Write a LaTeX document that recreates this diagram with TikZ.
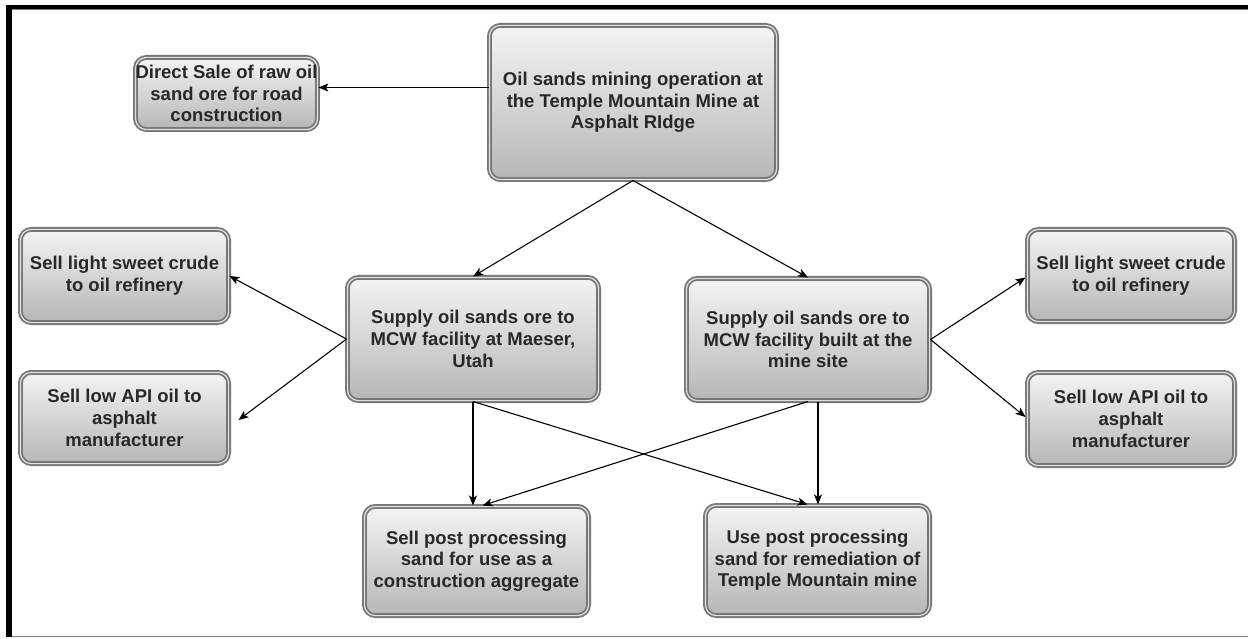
\documentclass[tikz,border=0pt]{standalone}
\usepackage{fontspec}
\setmainfont{Liberation Sans}
\usetikzlibrary{arrows.meta,calc}
\definecolor{boxline}{RGB}{118,118,118}
\definecolor{txt}{RGB}{40,40,40}
\definecolor{topc}{RGB}{244,244,244}
\definecolor{botc}{RGB}{182,182,182}
\begin{document}
\begin{tikzpicture}[x=1pt,y=-1pt,
  box/.style={draw=boxline, line width=1.8pt, double={rgb,255:red,225;green,225;blue,225}, double distance=1.2pt,
    rounded corners=11pt, top color=topc, bottom color=botc,
    inner sep=0pt, align=center, text=txt,
    font=\fontsize{18.5}{21.7}\selectfont\bfseries},
  conn/.style={draw=black, line width=1.1pt, -{Stealth[length=10pt,width=8pt,inset=2.5pt]}}]
\useasboundingbox (0,0) rectangle (1248,639);
\fill[white] (0,0) rectangle (1248,639);
% frame
\fill[black] (6,5) rectangle (12,637);
\fill[black] (6,5) rectangle (1248,9);
\draw[gray, line width=0.8pt] (12,9.6) -- (1248,9.6);
\draw[gray, line width=1pt] (12,636) -- (1248,636);
% nodes (size = outer size - 4.8)
\node[box, minimum width=287.2pt, minimum height=154.2pt] (top) at (633,102.5)
  {Oil sands mining operation at\\the Temple Mountain Mine at\\Asphalt RIdge};
\node[box, minimum width=172.2pt, minimum height=72.2pt] (direct) at (226.5,93.5)
  {Direct Sale of raw oil\\sand ore for road\\construction};
\node[box, minimum width=251.2pt, minimum height=123.2pt] (supL) at (473,339)
  {Supply oil sands ore to\\MCW facility at Maeser,\\Utah};
\node[box, minimum width=243.2pt, minimum height=122.2pt] (supR) at (808,339.5)
  {Supply oil sands ore to\\MCW facility built at the\\mine site};
\node[box, minimum width=208.2pt, minimum height=93.2pt] (lsl) at (124.5,276)
  {Sell light sweet crude\\to oil refinery};
\node[box, minimum width=208.2pt, minimum height=91.2pt] (lsw) at (124.5,418)
  {Sell low API oil to\\asphalt\\manufacturer};
\node[box, minimum width=207.2pt, minimum height=92.2pt] (rsl) at (1131,275.5)
  {Sell light sweet crude\\to oil refinery};
\node[box, minimum width=207.2pt, minimum height=93.2pt] (rsw) at (1131,419)
  {Sell low API oil to\\asphalt\\manufacturer};
\node[box, minimum width=224.2pt, minimum height=109.2pt] (bl) at (476.5,561)
  {Sell post processing\\sand for use as a\\construction aggregate};
\node[box, minimum width=224.2pt, minimum height=110.2pt] (br) at (817.5,560.5)
  {Use post processing\\sand for remediation of\\Temple Mountain mine};
% connectors
\coordinate (dsrc) at ($(top.west)+(0,-15)$);
\draw[conn] (dsrc) -- (direct.east |- dsrc);
\draw[conn] (top.south) -- (supL.north);
\draw[conn] (top.south) -- (supR.north);
\draw[conn] (supL.west) -- (lsl.east);
\draw[conn] (supL.west) -- ($(lsw.east)+(9,2)$);
\draw[conn] (supR.east) -- ($(rsl.west)+(-1,2)$);
\draw[conn] (supR.east) -- ($(rsw.west)+(-1,-2)$);
\draw[conn] (supL.south) -- (supL.south |- bl.north);
\draw[conn] (supL.south) -- ($(br.north)+(-10,0)$);
\coordinate (rv) at ($(supR.south)+(10,0)$);
\draw[conn] (rv) -- (rv |- br.north);
\draw[conn] (supR.south) -- ($(bl.north)+(6,0)$);
\end{tikzpicture}
\end{document}
